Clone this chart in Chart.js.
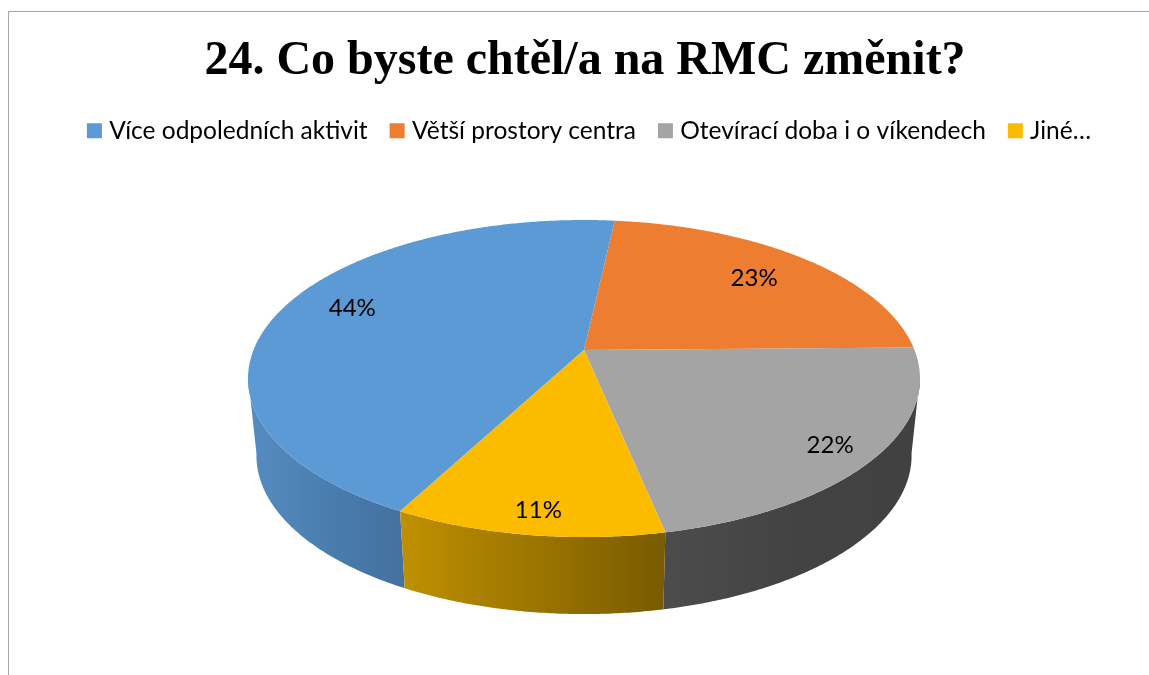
<!DOCTYPE html>
<html>
<head>
<meta charset="utf-8">
<script src="https://cdn.jsdelivr.net/npm/chart.js@4"></script>
<style>
html, body { margin: 0; background: #fff; overflow: hidden; }
#frame { position: absolute; left: 8px; top: 11px; width: 1141px; height: 664px;
         border-left: 1.5px solid #a6a6a6; border-top: 1.5px solid #a6a6a6; box-sizing: border-box; }
#wrap { position: absolute; left: 10px; top: 12px; width: 1150px; height: 663px; }
</style>
</head>
<body>
<div id="frame"></div>
<div id="wrap"><canvas id="pie"></canvas></div>
<script>
const titleText = '24. Co byste chtěl/a na RMC změnit?';
const categories = ['Více odpoledních aktivit', 'Větší prostory centra', 'Otevírací doba i o víkendech', 'Jiné…'];
const values = [44, 23, 22, 11];
const colors = ['#5b9ad5', '#ec7d31', '#a4a4a4', '#fbbc00'];

// side wall gradients, left to right
const sideColors = [
    ['#568dc2', '#4a7eaf', '#44719f'],
    ['#b0591c', '#b0591c'],
    ['#4c4c4c', '#434343', '#414141'],
    ['#bf9000', '#795b00']
];

// how far out each label sits on its slice (0 centre, 1 rim), then a small nudge in px
const labelRadius = [0.794, 0.76, 0.871, 0.88];
const labelNudge = [[9, -7], [0, 0], [-3, 3], [3, 2]];

// perspective of the pie, page pixels minus the wrapper offset
const view = { cx: 574, cy: 338, rx: 330.5, ry: 153.4, p: 0.18, depth: 77, shrink: 0.975 };

function project(a, r) {
    const x = Math.cos(a) * r, y = Math.sin(a) * r;
    const w = 1 - view.p * y;
    return { x: view.cx + view.rx * x / w, y: view.cy + view.ry * y / w };
}

function lower(pt) {
    return { x: view.cx + (pt.x - view.cx) * view.shrink, y: pt.y + view.depth };
}

function arcPoints(arc) {
    const pts = [];
    const n = Math.max(2, Math.ceil((arc.endAngle - arc.startAngle) * 120));
    for (let i = 0; i <= n; i++) {
        const a = arc.startAngle + (arc.endAngle - arc.startAngle) * i / n;
        pts.push({ a: a, pt: project(a, 1) });
    }
    return pts;
}

const pie3d = {
    id: 'pie3d',
    afterLayout(chart) {
        chart.legend.left += 6.5;
        chart.legend.right += 6.5;
    },
    beforeDatasetsDraw(chart) {
        const ctx = chart.ctx;
        const arcs = chart.getDatasetMeta(0).data;

        arcs.forEach((arc, i) => {
            // only the near part of the rim has a visible wall
            const front = arcPoints(arc).filter(q => Math.sin(q.a) > view.p - 0.02);
            if (front.length < 2) return;
            const xs = front.map(q => q.pt.x);
            const g = ctx.createLinearGradient(Math.min(...xs), 0, Math.max(...xs), 0);
            sideColors[i].forEach((c, k) => g.addColorStop(k / (sideColors[i].length - 1), c));
            ctx.beginPath();
            front.forEach((q, k) => k ? ctx.lineTo(q.pt.x, q.pt.y) : ctx.moveTo(q.pt.x, q.pt.y));
            front.slice().reverse().forEach(q => {
                const b = lower(q.pt);
                ctx.lineTo(b.x, b.y);
            });
            ctx.closePath();
            ctx.fillStyle = g;
            ctx.fill();
        });

        arcs.forEach((arc, i) => {
            ctx.beginPath();
            ctx.moveTo(view.cx, view.cy);
            arcPoints(arc).forEach(q => ctx.lineTo(q.pt.x, q.pt.y));
            ctx.closePath();
            ctx.fillStyle = colors[i];
            ctx.fill();
        });

        ctx.fillStyle = '#000';
        ctx.font = '24px Lato';
        ctx.textAlign = 'center';
        ctx.textBaseline = 'middle';
        arcs.forEach((arc, i) => {
            const pos = project((arc.startAngle + arc.endAngle) / 2, labelRadius[i]);
            ctx.fillText(values[i] + '%', pos.x + labelNudge[i][0], pos.y + labelNudge[i][1]);
        });
        return false;
    }
};

new Chart(document.getElementById('pie'), {
    type: 'pie',
    data: {
        labels: categories,
        // the border only thickens the legend boxes, the slices are drawn by pie3d
        datasets: [{ data: values, backgroundColor: colors, borderColor: colors, borderWidth: 10 }]
    },
    options: {
        responsive: true,
        maintainAspectRatio: false,
        animation: false,
        rotation: -152.1,
        plugins: {
            tooltip: { enabled: false },
            title: {
                display: true,
                text: titleText,
                color: '#000',
                font: { family: '"Liberation Serif"', size: 48, weight: 'bold' },
                padding: { top: 21, bottom: 1 }
            },
            legend: {
                position: 'top',
                labels: {
                    color: '#000',
                    font: { family: 'Lato', size: 24.5 },
                    boxWidth: 5,
                    boxHeight: 5,
                    padding: 27
                }
            }
        }
    },
    plugins: [pie3d]
});
</script>
</body>
</html>
